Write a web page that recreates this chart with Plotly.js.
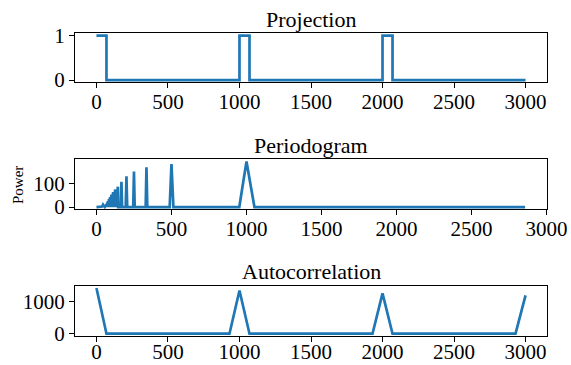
<!DOCTYPE html>
<html>
<head>
<meta charset="utf-8">
<script src="https://cdn.plot.ly/plotly-3.0.1.min.js"></script>
<style>html,body{margin:0;padding:0;background:#fff;}#chart{width:571px;height:365px;}</style>
</head>
<body>
<div id="chart"></div>
<script>
// Projection (square wave)
const projX = [0, 70, 70, 1000, 1000, 1070, 1070, 2000, 2000, 2070, 2070, 3000];
const projY = [1, 1, 0, 0, 1, 1, 0, 0, 1, 1, 0, 0];

// Periodogram (period vs power)
const pgX = [0, 25, 38, 44, 50, 56, 62.5, 64, 66.7, 68, 71.4, 73, 76.9, 78.5, 83.3, 85, 90.9, 92.5, 100, 102, 111.1, 113, 125, 127, 142.9, 145, 162, 166.7, 171, 195, 200, 205, 245, 250, 255, 328, 333.3, 339, 488, 500, 513, 952, 1000, 1053, 2857];
const pgY = [0, 2, 2, 10, 2, 0, 6, 0, 12, 0, 18, 0, 25, 0, 33, 0, 42, 0, 52, 0, 63, 0, 74, 0, 86, 0, 0, 107, 0, 0, 130, 0, 0, 150, 0, 0, 168, 0, 0, 182, 0, 0, 192, 0, 0];

// Autocorrelation
const acX = [0, 70, 930, 1000, 1070, 1930, 2000, 2070, 2930, 3000];
const acY = [1440, 0, 0, 1360, 0, 0, 1270, 0, 0, 1205];

const xTicks = [0, 500, 1000, 1500, 2000, 2500, 3000];
const titles = ["Projection", "Periodogram", "Autocorrelation"];

const FONT = "Liberation Serif, Times New Roman, serif";
const lineStyle = {color: '#1f77b4', width: 2.7};

const traces = [
  {x: projX, y: projY, type: 'scatter', mode: 'lines', line: lineStyle, xaxis: 'x', yaxis: 'y'},
  {x: pgX, y: pgY, type: 'scatter', mode: 'lines', line: lineStyle, xaxis: 'x2', yaxis: 'y2'},
  {x: acX, y: acY, type: 'scatter', mode: 'lines', line: lineStyle, xaxis: 'x3', yaxis: 'y3'}
];

function ax(extra) {
  return Object.assign({
    showline: true, mirror: true, linecolor: '#000', linewidth: 1,
    ticks: 'outside', ticklen: 5, tickwidth: 1, tickcolor: '#000',
    showgrid: false, zeroline: false, automargin: false,
    tickfont: {family: FONT, size: 21, color: '#000'}
  }, extra);
}
function xax(extra) { return ax(Object.assign({ticklabelstandoff: -5}, extra)); }

const W = 571, H = 365;
const xd = [75 / W, 547 / W];
function yd(top, bottom) { return [1 - bottom / H, 1 - top / H]; }

const layout = {
  width: W, height: H,
  margin: {l: 0, r: 0, t: 0, b: 0},
  paper_bgcolor: '#fff', plot_bgcolor: '#fff',
  showlegend: false,
  font: {family: FONT, color: '#000'},
  xaxis: xax({domain: xd, anchor: 'y', range: [-150, 3150], tickvals: xTicks}),
  yaxis: ax({domain: yd(33.3, 82.3), anchor: 'x', range: [-0.05, 1.05], tickvals: [0, 1]}),
  xaxis2: xax({domain: xd, anchor: 'y2', range: [-143, 3003], tickvals: xTicks}),
  yaxis2: ax({domain: yd(159.3, 209.3), anchor: 'x2', range: [-9.6, 201.6], tickvals: [0, 100]}),
  xaxis3: xax({domain: xd, anchor: 'y3', range: [-150, 3150], tickvals: xTicks, ticklabelstandoff: -8}),
  yaxis3: ax({domain: yd(285.7, 336), anchor: 'x3', range: [-72, 1512], tickvals: [0, 1000]}),
  annotations: [
    {text: titles[0], xref: 'paper', yref: 'paper', x: (xd[0] + xd[1]) / 2, y: 1 - 19 / H, xanchor: 'center', yanchor: 'middle', showarrow: false, font: {family: FONT, size: 22, color: '#000'}},
    {text: titles[1], xref: 'paper', yref: 'paper', x: (xd[0] + xd[1]) / 2, y: 1 - 145 / H, xanchor: 'center', yanchor: 'middle', showarrow: false, font: {family: FONT, size: 22, color: '#000'}},
    {text: titles[2], xref: 'paper', yref: 'paper', x: (xd[0] + xd[1]) / 2, y: 1 - 271.5 / H, xanchor: 'center', yanchor: 'middle', showarrow: false, font: {family: FONT, size: 22, color: '#000'}},
    {text: 'Power', xref: 'paper', yref: 'paper', x: 17.5 / W, y: 1 - 185.5 / H, xanchor: 'center', yanchor: 'middle', textangle: -90, showarrow: false, font: {family: FONT, size: 15, color: '#000'}}
  ]
};

Plotly.newPlot('chart', traces, layout, {staticPlot: true, displayModeBar: false});
</script>
</body>
</html>
